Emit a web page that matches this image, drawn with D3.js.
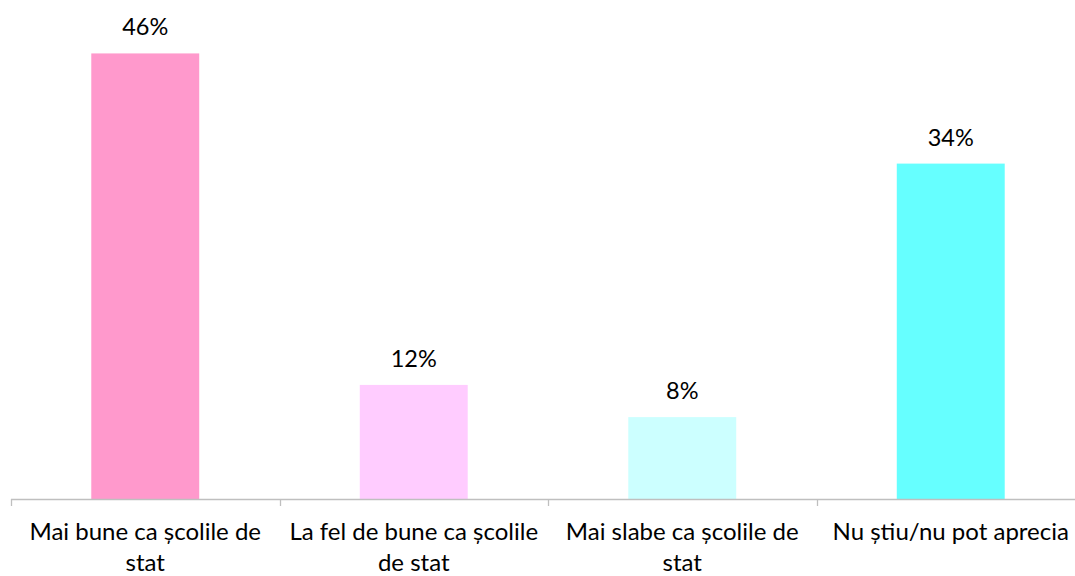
<!DOCTYPE html>
<html><head><meta charset="utf-8">
<script src="https://cdn.jsdelivr.net/npm/d3@7/dist/d3.min.js"></script>
<style>body{margin:0;background:#fff}svg{display:block}</style>
</head><body>
<svg id="c" width="1075" height="576"></svg>
<script>
const categories = ["Mai bune ca școlile de stat", "La fel de bune ca școlile de stat", "Mai slabe ca școlile de stat", "Nu știu/nu pot aprecia"];
const values = [45.7, 11.7, 8.4, 34.4];
const colors = ["#FF99CC", "#FFCCFF", "#CCFFFF", "#66FFFF"];

const svg = d3.select("#c");
const font = "Lato, 'Open Sans', sans-serif";
const baseY = 499;
const x = d3.scaleBand().domain(categories).range([11, 1085]).paddingInner(0.598).paddingOuter(0.299);
const y = d3.scaleLinear().domain([0, 50]).range([baseY, baseY - 487.5]);

svg.selectAll("rect.bar").data(categories).join("rect")
  .attr("class", "bar")
  .attr("x", d => x(d)).attr("width", x.bandwidth())
  .attr("y", (d, i) => y(values[i])).attr("height", (d, i) => y(0) - y(values[i]))
  .attr("fill", (d, i) => colors[i]);

// axis
const step = x.step();
const bounds = d3.range(categories.length + 1).map(i => 11 + i * step);
const g = svg.append("g");
g.append("line").attr("x1", 11).attr("x2", 1085).attr("y1", baseY + 0.5).attr("y2", baseY + 0.5)
  .attr("stroke", "#BFBFBF").attr("stroke-width", 1.3);
g.selectAll("line.tick").data(bounds).join("line").attr("class", "tick")
  .attr("x1", d => Math.round(d) + 0.5).attr("x2", d => Math.round(d) + 0.5)
  .attr("y1", baseY).attr("y2", baseY + 7).attr("stroke", "#BFBFBF").attr("stroke-width", 1.3);

// value labels
const fmt = d3.format(".0f");
svg.selectAll("text.val").data(categories).join("text").attr("class", "val")
  .attr("x", d => x(d) + x.bandwidth() / 2)
  .attr("y", (d, i) => y(values[i]) - 18)
  .attr("text-anchor", "middle").attr("font-family", font).attr("font-size", 23.5)
  .attr("fill", "#000").text((d, i) => fmt(values[i]) + "%");

// category labels with wrap
const maxW = 255;
svg.selectAll("text.cat").data(categories).join("text").attr("class", "cat")
  .attr("text-anchor", "middle").attr("font-family", font).attr("font-size", 24).attr("fill", "#000")
  .each(function(d) {
    const t = d3.select(this);
    const cx = x(d) + x.bandwidth() / 2;
    const words = d.split(" ");
    let lines = [], cur = [];
    const tmp = t.append("tspan");
    words.forEach(w => {
      const test = cur.concat([w]).join(" ");
      tmp.text(test);
      if (tmp.node().getComputedTextLength() > maxW && cur.length) { lines.push(cur.join(" ")); cur = [w]; }
      else cur.push(w);
    });
    lines.push(cur.join(" "));
    tmp.remove();
    lines.forEach((l, i) => t.append("tspan").attr("x", cx).attr("y", 540 + i * 31).text(l));
  });
</script>
</body></html>
